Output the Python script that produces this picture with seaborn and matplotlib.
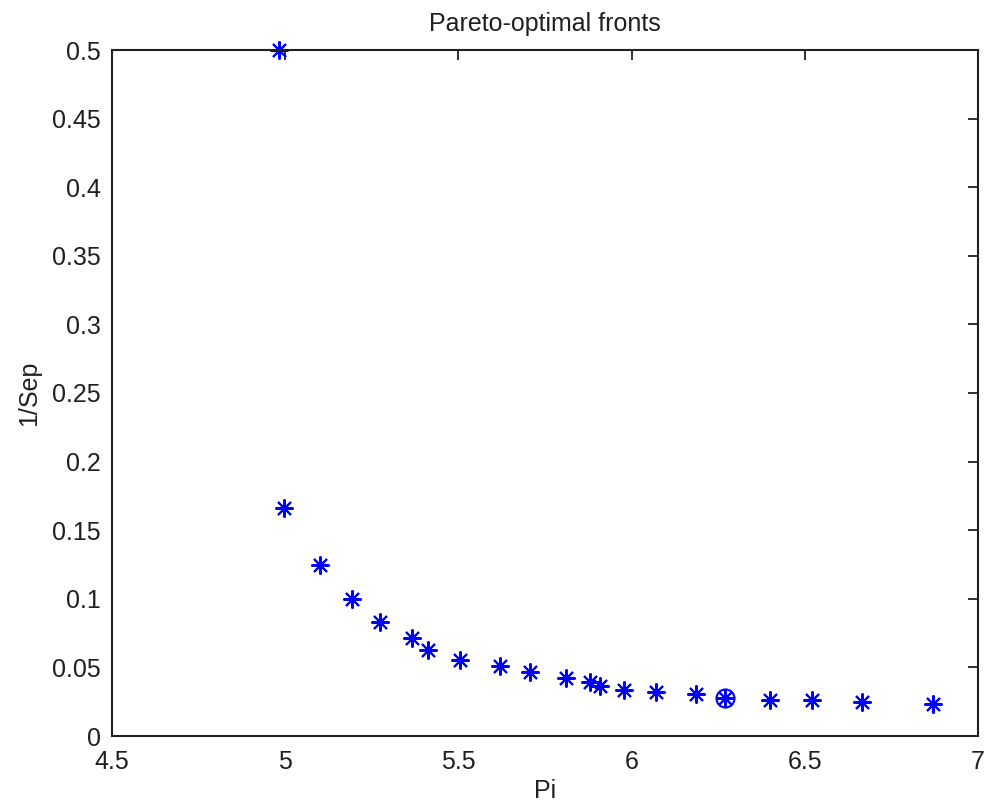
import matplotlib
matplotlib.use("Agg")
import matplotlib.pyplot as plt
import seaborn as sns
import pandas as pd
import numpy as np

# Data
pi_values = [4.982, 4.997, 5.100, 5.193, 5.274, 5.366, 5.412, 5.505, 5.621, 5.707,
             5.811, 5.880, 5.910, 5.978, 6.070, 6.186, 6.270, 6.400, 6.522, 6.666, 6.869]
inv_sep = [0.500, 0.166, 0.125, 0.100, 0.083, 0.0712, 0.0627, 0.0554, 0.0510, 0.0464,
           0.0420, 0.0394, 0.0364, 0.0335, 0.0320, 0.0304, 0.0275, 0.0260, 0.0260, 0.0246, 0.0231]
chosen_pi = [6.270]
chosen_sep = [0.0275]

x_ticks = [4.5, 5, 5.5, 6, 6.5, 7]
x_tick_labels = ["4.5", "5", "5.5", "6", "6.5", "7"]
y_ticks = [0, 0.05, 0.1, 0.15, 0.2, 0.25, 0.3, 0.35, 0.4, 0.45, 0.5]
y_tick_labels = ["0", "0.05", "0.1", "0.15", "0.2", "0.25", "0.3", "0.35", "0.4", "0.45", "0.5"]

sns.set_style("white")
plt.rcParams['font.family'] = ['Liberation Sans', 'DejaVu Sans']

df = pd.DataFrame({"Pi": pi_values, "InvSep": inv_sep})
df_chosen = pd.DataFrame({"Pi": chosen_pi, "InvSep": chosen_sep})

fig = plt.figure(figsize=(9.9, 8.09), dpi=100)
ax = fig.add_axes([112/990, 73/809, 866/990, 686/809])

sns.lineplot(data=df, x="Pi", y="InvSep", ax=ax, estimator=None, sort=False,
             linestyle="", marker=(8, 2, 0), markersize=13, markeredgewidth=1.5,
             color="blue", markeredgecolor="blue", clip_on=False)
sns.lineplot(data=df_chosen, x="Pi", y="InvSep", ax=ax, estimator=None, sort=False,
             linestyle="", marker="o", markersize=13, markeredgewidth=1.5,
             markerfacecolor="none", markeredgecolor="blue", clip_on=False)

ax.set_xlim(4.5, 7)
ax.set_ylim(0, 0.5)
ax.set_xticks(x_ticks)
ax.set_xticklabels(x_tick_labels)
ax.set_yticks(y_ticks)
ax.set_yticklabels(y_tick_labels)

for s in ax.spines.values():
    s.set_visible(True)
    s.set_color("#202020")
    s.set_linewidth(1.5)

ax.tick_params(axis="both", which="both", direction="in", length=7, width=1.3,
               top=True, right=True, labelsize=18, colors="#202020")
ax.tick_params(axis="x", pad=10)
ax.tick_params(axis="y", pad=8)

ax.set_xlabel("Pi", fontsize=18, color="#202020", labelpad=4)
ax.set_ylabel("1/Sep", fontsize=18, color="#202020", labelpad=8)
ax.set_title("Pareto-optimal fronts", fontsize=18, color="#202020", pad=14)

fig.savefig("out.png", dpi=100)
